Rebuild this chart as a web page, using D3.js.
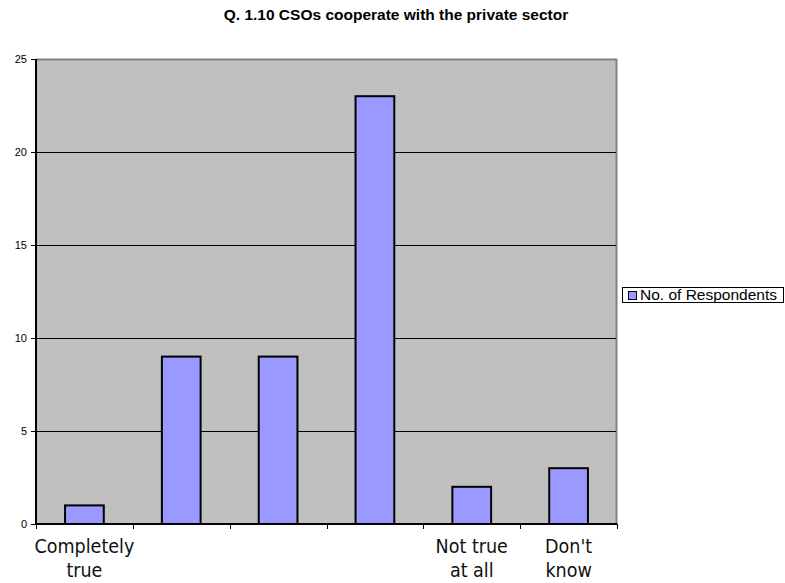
<!DOCTYPE html>
<html>
<head>
<meta charset="utf-8">
<script src="https://cdn.jsdelivr.net/npm/d3@7"></script>
<style>
  html, body { margin: 0; padding: 0; background: #ffffff; }
  svg { display: block; }
  .cat { font-family: "DejaVu Sans Condensed", "DejaVu Sans", sans-serif; font-stretch: condensed; }
</style>
</head>
<body>
<svg id="chart" width="785" height="583"></svg>
<script>
// Survey answers for Q. 1.10
const categories = ["Completely true", "", "", "", "Not true at all", "Don't know"];
const categoryLines = [["Completely", "true"], [], [], [], ["Not true", "at all"], ["Don't", "know"]];
const respondents = [1, 9, 9, 23, 2, 3];
const yTicks = [0, 5, 10, 15, 20, 25];
const seriesName = "No. of Respondents";
const chartTitle = "Q. 1.10 CSOs cooperate with the private sector";

const svg = d3.select("#chart");
const plot = { left: 36, top: 59, right: 617, bottom: 524 };

const x = d3.scaleBand()
  .domain(d3.range(categories.length))
  .range([plot.left, plot.right])
  .paddingInner(0.6)
  .paddingOuter(0.3);

const y = d3.scaleLinear().domain([0, 25]).range([plot.bottom, plot.top]);

// Plot background
svg.append("rect")
  .attr("x", plot.left).attr("y", plot.top)
  .attr("width", plot.right - plot.left).attr("height", plot.bottom - plot.top)
  .attr("fill", "#c0c0c0");

// Top and right frame
svg.append("path")
  .attr("d", `M${plot.left},${plot.top + 0.5}H${plot.right - 0.5}V${plot.bottom}`)
  .attr("fill", "none").attr("stroke", "#808080").attr("stroke-width", 2);

// Horizontal gridlines
svg.append("g").selectAll("line")
  .data(yTicks.filter(t => t > 0 && t < 25))
  .join("line")
  .attr("x1", plot.left).attr("x2", plot.right - 1)
  .attr("y1", d => Math.round(y(d)) + 0.5).attr("y2", d => Math.round(y(d)) + 0.5)
  .attr("stroke", "#000").attr("stroke-width", 1);

// Bars
svg.append("g").selectAll("rect")
  .data(respondents)
  .join("rect")
  .attr("x", (d, i) => x(i))
  .attr("y", d => y(d))
  .attr("width", x.bandwidth())
  .attr("height", d => y(0) - y(d))
  .attr("fill", "#9999ff")
  .attr("stroke", "#000")
  .attr("stroke-width", 2);

// Y axis
const yAxis = svg.append("g")
  .attr("transform", `translate(${plot.left},0)`)
  .call(d3.axisLeft(y).tickValues(yTicks).tickSize(5).tickPadding(4));
yAxis.select(".domain").attr("stroke", "#000").attr("stroke-width", 2).attr("d", `M0,${plot.top}V${plot.bottom}`);
yAxis.selectAll(".tick line").attr("stroke", "#000");
yAxis.selectAll("text")
  .attr("font-family", "Liberation Sans, Arial, sans-serif")
  .attr("font-size", 11).attr("fill", "#000");

// X axis: tick marks at category boundaries
const step = (plot.right - plot.left) / categories.length;
const xb = svg.append("g");
xb.append("line")
  .attr("x1", plot.left).attr("x2", plot.right)
  .attr("y1", plot.bottom).attr("y2", plot.bottom)
  .attr("stroke", "#000").attr("stroke-width", 2);
xb.selectAll("line.tk")
  .data(d3.range(categories.length + 1))
  .join("line").attr("class", "tk")
  .attr("x1", i => Math.round(plot.left + i * step) + 0.5)
  .attr("x2", i => Math.round(plot.left + i * step) + 0.5)
  .attr("y1", plot.bottom).attr("y2", plot.bottom + 5)
  .attr("stroke", "#000");

// Category labels
const lab = svg.append("g")
  .attr("class", "cat")
  .attr("font-size", 19.5).attr("fill", "#111")
  .attr("text-anchor", "middle");
categoryLines.forEach((lines, i) => {
  const cx = x(i) + x.bandwidth() / 2;
  lines.forEach((t, k) => {
    lab.append("text").attr("x", cx).attr("y", 553 + k * 24).text(t);
  });
});

// Title
svg.append("text")
  .attr("x", 396).attr("y", 20)
  .attr("text-anchor", "middle")
  .attr("font-family", "Liberation Sans, Arial, sans-serif")
  .attr("font-size", 15.5).attr("font-weight", "bold")
  .text(chartTitle);

// Legend
const lg = svg.append("g").attr("transform", "translate(622,287)");
lg.append("rect").attr("x", 0.5).attr("y", 0.5).attr("width", 161).attr("height", 15)
  .attr("fill", "#fff").attr("stroke", "#000");
lg.append("rect").attr("x", 6.5).attr("y", 4.5).attr("width", 8).attr("height", 8)
  .attr("fill", "#9999ff").attr("stroke", "#000");
lg.append("text").attr("x", 18).attr("y", 13)
  .attr("font-family", "Liberation Sans, Arial, sans-serif")
  .attr("font-size", 15.5).text(seriesName);
</script>
</body>
</html>
